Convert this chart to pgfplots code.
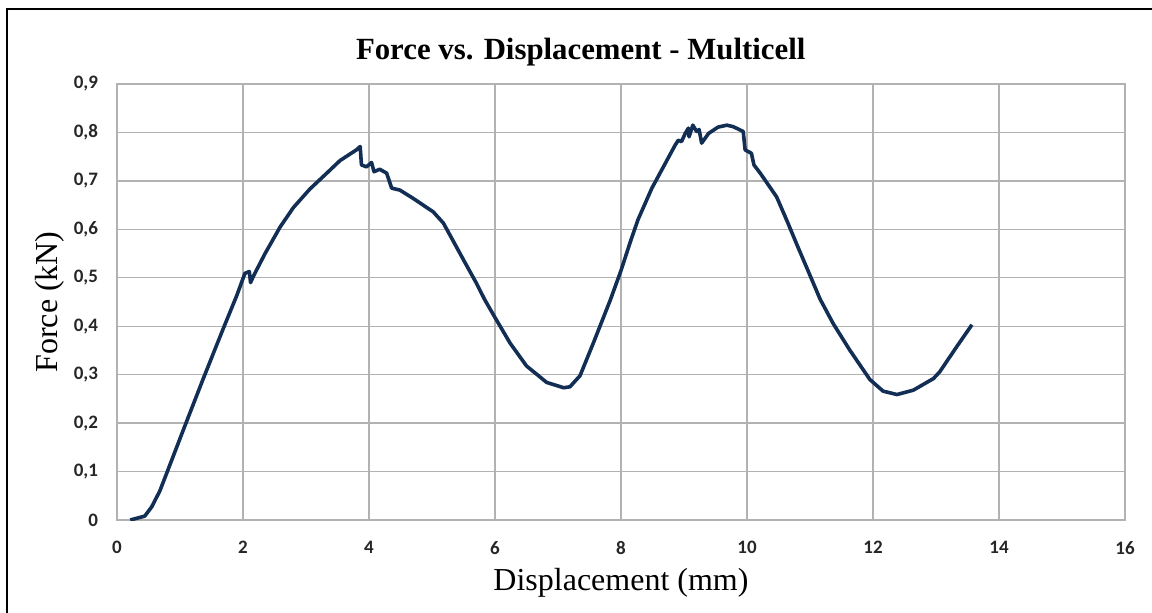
\documentclass[border=0pt]{standalone}
\usepackage{fontspec}
\setmainfont{Liberation Serif}
\newfontfamily\tickfont{Carlito}
\usepackage{pgfplots}
\pgfplotsset{compat=1.18}
\definecolor{navy}{RGB}{18,46,84}
\definecolor{gridc}{RGB}{178,178,178}
\begin{document}
\begin{tikzpicture}
\path[use as bounding box] (0pt,0pt) rectangle (576pt,306pt);
\draw[line width=1.2pt,black] (3.5pt,-2pt) -- (3.5pt,301.5pt) -- (580pt,301.5pt);
\begin{axis}[
  at={(58.5pt,46pt)}, anchor=south west,
  scale only axis, width=504pt, height=218pt,
  xmin=0, xmax=16, ymin=0, ymax=0.9,
  xtick={0,2,...,16}, ytick={0,0.1,...,0.9},
  grid=major,
  major grid style={gridc, line width=0.7pt},
  axis line style={gridc, line width=0.7pt},
  x axis line style={line width=1.3pt},
  tick style={draw=none},
  /pgf/number format/assume math mode=true,
  /pgf/number format/use comma,
  /pgf/number format/fixed,
  /pgf/number format/precision=1,
  ticklabel style={font=\tickfont\bfseries\fontsize{9.5}{10}\selectfont, text=black!85},
  yticklabel style={xshift=-6pt},
  xticklabel style={yshift=-7pt},
  title={\bfseries Force vs. Displacement - Multicell},
  title style={font=\fontsize{15.4}{17}\selectfont, at={(axis description cs:0.46,1.045)}, anchor=center},
  xlabel={Displacement (mm)},
  ylabel={Force (kN)},
  label style={font=\fontsize{16}{18}\selectfont},
  xlabel style={at={(axis description cs:0.5,-0.1445)}, anchor=center},
  ylabel style={at={(axis description cs:-0.0665,0.5)}, anchor=center, rotate=0},
]
\addplot[navy, line width=1.8pt, line join=round] coordinates {
(0.21,0.0) (0.44,0.008) (0.55,0.027) (0.68,0.06) (0.79,0.097) (1.05,0.185) (1.37,0.292)
(1.68,0.393) (1.9,0.463) (2.03,0.509) (2.1,0.513) (2.12,0.49) (2.16,0.502)
(2.35,0.55) (2.59,0.605) (2.8,0.645) (3.06,0.683) (3.33,0.716) (3.54,0.742) (3.8,0.764) (3.86,0.771)
(3.88,0.733) (3.96,0.729) (4.04,0.738) (4.08,0.719) (4.17,0.724) (4.28,0.716)
(4.36,0.685) (4.49,0.681) (4.7,0.664) (5.02,0.636) (5.18,0.613) (5.29,0.587)
(5.5,0.537) (5.7,0.49) (5.84,0.454) (6.0,0.418) (6.24,0.365) (6.5,0.318) (6.82,0.284)
(7.09,0.273) (7.19,0.275) (7.35,0.298) (7.56,0.365) (7.83,0.454) (8.0,0.515) (8.15,0.575)
(8.27,0.620) (8.49,0.685) (8.59,0.709) (8.86,0.774) (8.91,0.784) (8.96,0.781)
(9.02,0.798) (9.07,0.809) (9.08,0.791) (9.14,0.815) (9.2,0.802) (9.24,0.806)
(9.28,0.778) (9.39,0.798) (9.54,0.811) (9.68,0.815) (9.78,0.812) (9.94,0.802)
(9.97,0.764) (10.07,0.757) (10.11,0.733) (10.21,0.716) (10.47,0.667) (10.63,0.619)
(10.8,0.566) (11.0,0.505) (11.16,0.456) (11.37,0.405) (11.63,0.351) (11.95,0.290)
(12.16,0.266) (12.38,0.259) (12.64,0.268) (12.96,0.292) (13.06,0.306) (13.33,0.358) (13.57,0.403)
};
\end{axis}
\end{tikzpicture}
\end{document}
